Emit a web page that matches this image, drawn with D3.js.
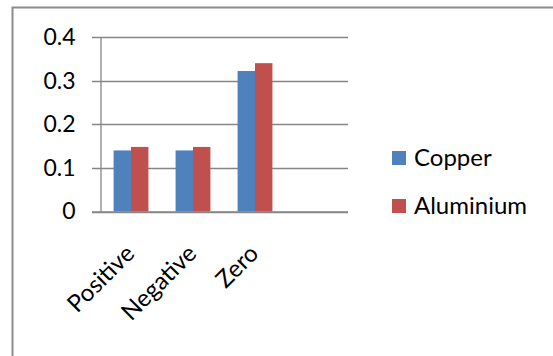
<!DOCTYPE html>
<html><head><meta charset="utf-8">
<script src="https://cdn.jsdelivr.net/npm/d3@7"></script>
<style>
html,body{margin:0;padding:0;background:#fff;}
svg{display:block;}
text{font-family:Lato,"Open Sans",sans-serif;fill:#000;}
</style></head>
<body>
<svg id="c" width="553" height="356"></svg>
<script>
const categories = ["Positive", "Negative", "Zero"];
const seriesNames = ["Copper", "Aluminium"];
const copper = [0.14, 0.14, 0.322];
const aluminium = [0.148, 0.148, 0.34];
const yTicks = [0, 0.1, 0.2, 0.3, 0.4];
const yTickLabels = ["0", "0.1", "0.2", "0.3", "0.4"];
const colors = ["#4f81bd", "#c0504d"];

const svg = d3.select("#c");

// outer chart border
svg.append("rect").attr("x", 12.5).attr("y", 7.5).attr("width", 560).attr("height", 360)
  .attr("fill", "none").attr("stroke", "#8c8c8c").attr("stroke-width", 2);

// 4 category slots (last one empty)
const slots = categories.concat([""]);
const x = d3.scaleBand().domain(slots).range([100, 348]).paddingInner(0).paddingOuter(0);
const xs = d3.scaleBand().domain(seriesNames).range([0, x.bandwidth()]).paddingInner(0).paddingOuter(0.78);
const y = d3.scaleLinear().domain([0, 0.4]).range([211.5, 37]);

// gridlines
const grid = svg.append("g");
grid.selectAll("line").data(yTicks).join("line")
  .attr("x1", 92).attr("x2", 348)
  .attr("y1", d => Math.round(y(d)) + 0.5).attr("y2", d => Math.round(y(d)) + 0.5)
  .attr("stroke", "#868686").attr("stroke-width", 1.3);

// y axis
const yAxis = d3.axisLeft(y).tickValues(yTicks).tickFormat((d, i) => yTickLabels[i]).tickSize(0).tickPadding(25);
const ya = svg.append("g").attr("transform", "translate(100.5,0)").call(yAxis);
ya.select(".domain").attr("stroke", "#868686").attr("stroke-width", 1.3);
ya.selectAll("text").style("font-size", "23px").attr("fill", "#000");

// bars
const data = categories.map((c, i) => ({ c, vals: [copper[i], aluminium[i]] }));
const groups = svg.append("g").selectAll("g").data(data).join("g")
  .attr("transform", d => `translate(${x(d.c)},0)`);
groups.selectAll("rect").data(d => d.vals.map((v, j) => ({ v, s: seriesNames[j], j })))
  .join("rect")
  .attr("x", d => xs(d.s)).attr("width", xs.bandwidth())
  .attr("y", d => y(d.v)).attr("height", d => y(0) - y(d.v))
  .attr("fill", d => colors[d.j]);

// x axis line on top of bars
svg.append("line").attr("x1", 92).attr("x2", 348).attr("y1", 212).attr("y2", 212)
  .attr("stroke", "#868686").attr("stroke-width", 1.3);

// category labels rotated
const xAxis = d3.axisBottom(x).tickValues(categories).tickSize(0);
const xa = svg.append("g").attr("transform", "translate(0,212)").call(xAxis);
xa.select(".domain").remove();
xa.selectAll("text")
  .style("font-size", "24px")
  .attr("text-anchor", "end")
  .attr("y", 0).attr("dy", 0)
  .attr("transform", "translate(5,43) rotate(-45)");

// legend
const lg = svg.append("g").selectAll("g").data(seriesNames).join("g")
  .attr("transform", (d, i) => `translate(392,${151 + i * 48})`);
lg.append("rect").attr("width", 14).attr("height", 14).attr("fill", (d, i) => colors[i]);
lg.append("text").attr("x", 22).attr("y", 15).style("font-size", "24px").text(d => d);
</script>
</body></html>
